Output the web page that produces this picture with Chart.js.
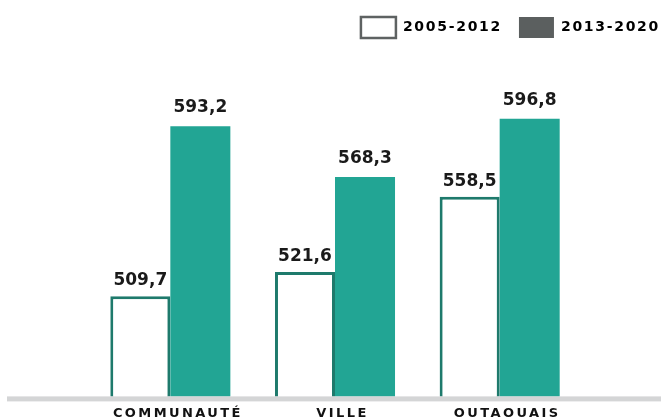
<!DOCTYPE html>
<html>
<head>
<meta charset="utf-8">
<title>Comparaison par période</title>
<script src="https://cdn.jsdelivr.net/npm/chart.js@4/dist/chart.umd.min.js"></script>
<style>
  html, body { margin: 0; padding: 0; background: #fff; }
  canvas { display: block; }
</style>
</head>
<body>
<canvas id="chart" width="661" height="420"></canvas>
<script>
// Categories and period series
const categories = ['COMMUNAUTÉ', 'VILLE', 'OUTAOUAIS'];
const periods = ['2005-2012', '2013-2020'];
const values2005_2012 = [509.7, 521.6, 558.5];
const values2013_2020 = [593.2, 568.3, 596.8];

// Value axis range (axis itself is hidden)
const axisMin = 460.5;
const axisMax = 631.6;

const fmt = v => v.toFixed(1).replace('.', ',');

// Baseline bar, value labels and per-phase letter spacing
const decor = {
  id: 'decor',
  beforeUpdate(chart) { chart.ctx.letterSpacing = '1.7px'; },
  beforeDraw(chart) { chart.ctx.letterSpacing = '1.7px'; },
  afterDatasetsDraw(chart) {
    const ctx = chart.ctx;
    const area = chart.chartArea;
    const gaps = [11, 14];
    ctx.save();
    ctx.letterSpacing = '0px';
    ctx.fillStyle = '#d4d5d6';
    ctx.fillRect(7, area.bottom, chart.width - 7, 5);
    ctx.font = "bold 17px 'DejaVu Sans'";
    ctx.fillStyle = '#1a1a1a';
    ctx.textAlign = 'center';
    ctx.textBaseline = 'alphabetic';
    chart.data.datasets.forEach((ds, di) => {
      chart.getDatasetMeta(di).data.forEach((bar, i) => {
        ctx.fillText(fmt(ds.data[i]), bar.x, bar.y - gaps[di]);
      });
    });
    ctx.restore();
    // category labels are drawn after this point
    ctx.letterSpacing = '2.4px';
  },
  afterDraw(chart) { chart.ctx.letterSpacing = '1.7px'; }
};

const hiddenAxis = {
  display: true,
  grid: { display: false, drawTicks: false },
  border: { display: false },
  ticks: { display: false }
};

new Chart(document.getElementById('chart'), {
  type: 'bar',
  data: {
    labels: categories,
    datasets: [
      {
        label: periods[0],
        data: values2005_2012,
        backgroundColor: '#ffffff',
        borderColor: '#1e7a6c',
        borderWidth: 3,
        borderSkipped: 'start',
        categoryPercentage: 0.729,
        barPercentage: 1
      },
      {
        label: periods[1],
        data: values2013_2020,
        backgroundColor: '#22a594',
        borderWidth: 0,
        categoryPercentage: 0.729,
        barPercentage: 1
      }
    ]
  },
  options: {
    responsive: false,
    animation: false,
    layout: { padding: { top: 0, right: -16, bottom: -10, left: 0 } },
    plugins: {
      tooltip: { enabled: false },
      legend: {
        position: 'top',
        align: 'end',
        labels: {
          boxWidth: 35,
          boxHeight: 21,
          padding: 17,
          color: '#111111',
          font: { family: 'DejaVu Sans', size: 14, weight: 'bold' },
          generateLabels: () => [
            { text: periods[0], fillStyle: '#ffffff', strokeStyle: '#5e6262', lineWidth: 2.5, datasetIndex: 0 },
            { text: periods[1], fillStyle: '#5b5f5f', strokeStyle: '#5b5f5f', lineWidth: 0, datasetIndex: 1 }
          ]
        }
      }
    },
    scales: {
      x: {
        grid: { display: false, drawTicks: false },
        border: { display: false },
        ticks: {
          color: '#111111',
          font: { family: 'DejaVu Sans', size: 13, weight: 'bold' },
          padding: 9,
          labelOffset: 7.5,
          maxRotation: 0,
          autoSkip: false,
          z: 1
        }
      },
      y: Object.assign({}, hiddenAxis, {
        min: axisMin,
        max: axisMax,
        afterFit(scale) { scale.width = 88; }
      }),
      y2: Object.assign({}, hiddenAxis, {
        type: 'linear',
        position: 'right',
        afterFit(scale) { scale.width = 95; }
      })
    }
  },
  plugins: [decor]
});
</script>
</body>
</html>
